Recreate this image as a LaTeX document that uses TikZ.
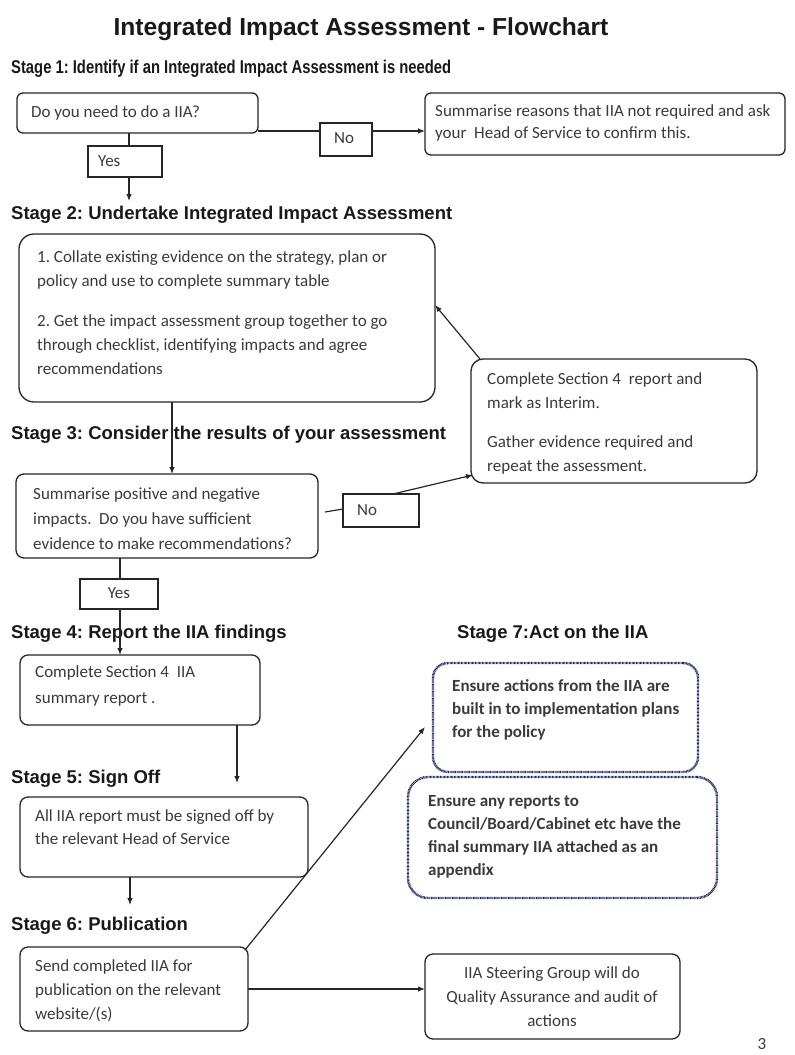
\documentclass[tikz,border=0pt]{standalone}
\usepackage{fontspec}
\setmainfont{Carlito}
\newfontfamily\hfont{Liberation Sans}
\newfontfamily\hnarrow[FakeStretch=0.8]{Liberation Sans}
\usetikzlibrary{arrows.meta}
\definecolor{txtc}{HTML}{3A3A3A}
\definecolor{linec}{HTML}{262626}
\definecolor{navy}{HTML}{1C2B63}
\frenchspacing
\begin{document}
\begin{tikzpicture}[x=1pt,y=-1pt,
  box/.style={draw=linec, line width=1.3pt, rounded corners=#1, anchor=north west, inner sep=0pt, outer sep=0pt},
  box/.default=6pt,
  sq/.style={draw=linec, line width=1.2pt, anchor=north west, inner sep=0pt, outer sep=0pt},
  dot/.style={draw=navy, line width=2.4pt, dash pattern=on 0.8pt off 0.6pt, rounded corners=#1, anchor=north west, inner sep=0pt, outer sep=0pt},
  tx/.style={anchor=north west, inner sep=0pt, align=left, font=\fontsize{17}{24}\selectfont, text=txtc},
  txb/.style={tx, font=\fontsize{17}{24}\selectfont\bfseries},
  txc/.style={tx, anchor=north, align=center},
  hd/.style={anchor=base west, inner sep=0pt, font=\hfont\bfseries\fontsize{18.5}{22}\selectfont, text=black!90},
  ln/.style={draw=linec, line width=1.2pt},
  arr/.style={draw=linec, line width=1.2pt, -{Latex[length=7pt,width=5.5pt]}}
]
\useasboundingbox (0,0) rectangle (795,1055);
\fill[white] (0,0) rectangle (795,1055);

% title and headings
\node[anchor=base, inner sep=0pt, font=\hfont\bfseries\fontsize{24.6}{28}\selectfont, text=black!90] (title) at (361,35.6) {Integrated Impact Assessment - Flowchart};
\node[hd, font=\hnarrow\bfseries\fontsize{18.5}{22}\selectfont] (s1) at (11,73.6) {Stage 1: Identify if an Integrated Impact Assessment is needed};
\node[hd] (s2) at (11,219.6) {Stage 2: Undertake Integrated Impact Assessment};
\node[hd] (s3) at (11,439.6) {Stage 3: Consider the results of your assessment};
\node[hd] (s4) at (11,638.6) {Stage 4: Report the IIA findings};
\node[hd] (s7) at (457,638.6) {Stage 7:Act on the IIA};
\node[hd] (s5) at (11,783.6) {Stage 5: Sign Off};
\node[hd] (s6) at (11,930.6) {Stage 6: Publication};

% boxes
\node[box, minimum width=241pt, minimum height=40pt] (A) at (17,93) {};
\node[box, minimum width=360pt, minimum height=62pt] (B) at (425,93) {};
\node[sq, minimum width=74pt, minimum height=31pt] (YA) at (88,146) {};
\node[sq, minimum width=52pt, minimum height=33pt] (NA) at (320,123) {};
\node[box=15pt, minimum width=416pt, minimum height=168pt] (C) at (19,234) {};
\node[box=12pt, minimum width=286pt, minimum height=124pt] (D) at (471,359) {};
\node[box=8pt, minimum width=302pt, minimum height=84pt] (E) at (16,474) {};
\node[sq, minimum width=76pt, minimum height=33pt] (NE) at (343,494) {};
\node[sq, minimum width=78pt, minimum height=30pt] (YE) at (80,579) {};
\node[box=8pt, minimum width=240pt, minimum height=70pt] (F) at (20,655) {};
\node[box=8pt, minimum width=288pt, minimum height=80pt] (G) at (20,797) {};
\node[box=8pt, minimum width=228pt, minimum height=84pt] (H) at (20,947) {};
\node[dot=15pt, minimum width=265pt, minimum height=109pt] (I) at (433,663) {};
\node[dot=20pt, minimum width=309pt, minimum height=121pt] (J) at (408,777) {};
\node[box=8pt, minimum width=255pt, minimum height=85pt] (K) at (425,954) {};

% texts
\node[tx] (At) at (31,100.2) {\strut Do you need to do a IIA?};
\node[tx] (Bt) at (435,99.2) {\strut Summarise reasons that IIA not required and ask\\[-2pt]your\ \ Head of Service to confirm this.};
\node[tx] (YAt) at (98,149.2) {\strut Yes};
\node[tx] (NAt) at (334,126.2) {\strut No};
\node[tx] (Ct) at (37,245.2) {\strut 1. Collate existing evidence on the strategy, plan or\\policy and use to complete summary table\\[16pt]2. Get the impact assessment group together to go\\through checklist, identifying impacts and agree\\recommendations};
\node[tx] (Dt) at (487,367.2) {\strut Complete Section 4\ \ report and\\mark as Interim.\\[15pt]Gather evidence required and\\repeat the assessment.};
\node[tx] (Et) at (33,482.2) {\strut Summarise positive and negative\\[1pt]impacts.\ \ Do you have sufficient\\[1pt]evidence to make recommendations?};
\node[tx] (NEt) at (357,498.2) {\strut No};
\node[txc] (YEt) at (119,581.2) {\strut Yes};
\node[tx] (Ft) at (35,660.2) {\strut Complete Section 4\ \ IIA\\[2pt]summary report .};
\node[tx] (Gt) at (35,804.2) {\strut All IIA report must be signed off by\\[-1pt]the relevant Head of Service};
\node[tx] (Ht) at (35,954.2) {\strut Send completed IIA for\\publication on the relevant\\website/(s)};
\node[txb] (It) at (452,674.2) {\strut Ensure actions from the IIA are\\[-1pt]built in to implementation plans\\[-1pt]for the policy};
\node[txb] (Jt) at (428,789.2) {\strut Ensure any reports to\\[-1pt]Council/Board/Cabinet etc have the\\[-1pt]final summary IIA attached as an\\[-1pt]appendix};
\node[txc] (Kt) at (552,961.2) {\strut IIA Steering Group will do\\Quality Assurance and audit of\\actions};
\node[txc] (pg) at (762,1032.2) {\strut 3};

% connectors
\coordinate (h1) at ([yshift=2pt]A.south east);
\draw[ln] (h1) -- (h1 -| NA.west);
\draw[arr] (h1 -| NA.east) -- (h1 -| B.west);
\draw[ln] ([xshift=-8.5pt]A.south) -- ([xshift=-8.5pt]A.south |- YA.north);
\coordinate (s2top) at (129,201);
\draw[arr] ([xshift=-8.5pt]A.south |- YA.south) -- (s2top);

\draw[arr] ([xshift=-55pt]C.south) -- ([xshift=-55pt]C.south |- E.north);
\draw[arr] ([xshift=9pt]D.north west) -- ([yshift=13pt]C.east);

\draw[ln] ([xshift=7pt,yshift=4pt]E.east) -- ([yshift=1.5pt]NE.west);
\draw[arr] ([xshift=12pt]NE.north) -- ([xshift=2pt,yshift=8pt]D.south west);

\draw[ln] ([xshift=-47pt]E.south) -- ([xshift=-47pt]E.south |- YE.north);
\draw[arr] ([xshift=-47pt]E.south |- YE.south) -- ([xshift=-47pt]E.south |- F.north);

\draw[arr, shorten >=14pt] ([xshift=97pt]F.south) -- ([xshift=97pt]F.south |- G.north);
\coordinate (s6top) at (130,905);
\draw[arr] ([xshift=-34pt]G.south) -- (s6top);

\draw[arr] ([xshift=-3pt,yshift=-3pt]H.north east) -- ([xshift=-8pt,yshift=-9.5pt]I.west);
\draw[arr] (H.east) -- (H.east -| K.west);
\end{tikzpicture}
\end{document}
